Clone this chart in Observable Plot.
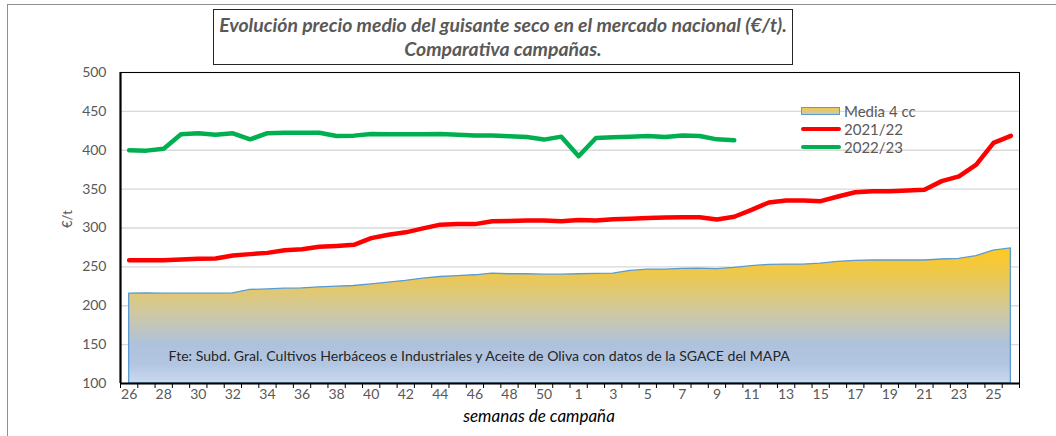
<!DOCTYPE html>
<html>
<head>
<meta charset="utf-8">
<script src="https://cdn.jsdelivr.net/npm/d3@7"></script>
<script src="https://cdn.jsdelivr.net/npm/@observablehq/plot@0.6"></script>
<style>
  html, body { margin: 0; padding: 0; background: #fff; }
  #wrap { position: relative; width: 1056px; height: 436px; overflow: hidden; font-family: Lato, sans-serif; }
  #border { position: absolute; left: 7px; top: 4px; width: 1100px; height: 500px; border: 1.5px solid #8f8f8f; }
  #chart { position: absolute; left: 0; top: 0; }
  #title { position: absolute; left: 213px; top: 9px; width: 578px; border: 1.5px solid #262626;
           background: #fff; color: #595959; font-weight: bold; font-style: italic; font-size: 19.4px;
           text-align: center; line-height: 24px; padding-top: 3px; box-sizing: content-box; height: 51px; }
  #title div { height: 24px; }
  .lg { position: absolute; color: #595959; font-size: 15px; line-height: 18px; }
  .sw { position: absolute; }
</style>
</head>
<body>
<div id="wrap">
  <div id="border"></div>
  <div id="chart"></div>
  <div id="title"></div>
  <div id="legend"></div>
</div>
<script>
const weekLabels = [26,27,28,29,30,31,32,33,34,35,36,37,38,39,40,41,42,43,44,45,46,47,48,49,50,51,
                    1,2,3,4,5,6,7,8,9,10,11,12,13,14,15,16,17,18,19,20,21,22,23,24,25,26];
const media4cc = [215.5,216,215.5,215.5,215.5,215.5,216,220.3,221,222,222.4,223.7,224.6,225.4,227.6,229.7,232,234.8,
                  237,238,239.2,241.4,240.5,240.5,240,240,240.5,241,241.4,244.8,246.5,246.5,247.4,247.8,247.2,248.7,
                  250.9,252.6,253,253,254.3,256.5,257.8,258.2,258.2,258.2,258.2,259.5,260.3,263.8,271,273.7];
const c2021_22 = [258.6,258.6,258.6,259.5,260.3,260.8,264.7,266.4,268,271.5,272.8,275.9,277,278.4,287,291.4,294.4,299.5,
                  304.3,305,305,308.6,309,309.5,309.5,308.6,310.3,309.5,311.2,312,313,313.4,313.8,313.8,311,314.5,
                  323.3,332.8,335.3,335.3,334.5,340.5,346,347.4,347.4,348.3,349.1,360.3,366.4,381.5,409.5,418.5];
const c2022_23 = [400,399.5,402,420.5,421.8,420,421.8,414,422,422.6,422.6,422.6,418.4,418.8,421,420.5,420.5,420.5,
                  421,420,419,419,418,417,413.7,417.5,392.3,415.8,416.7,417.5,418.4,417,419,418.4,414,412.8];
const yTicks = [100,150,200,250,300,350,400,450,500];
const seriesNames = ["Media 4 cc", "2021/22", "2022/23"];
const titleLines = ["Evolución precio medio del guisante seco en el mercado nacional (€/t).", "Comparativa campañas."];
const sourceNote = "Fte: Subd. Gral. Cultivos Herbáceos e Industriales y Aceite de Oliva con datos de la SGACE del MAPA";
const xTitle = "semanas de campaña";
const yTitle = "€/t";

const toRows = arr => arr.map((v, i) => ({i, v}));
const mediaRows = toRows(media4cc), rows2122 = toRows(c2021_22), rows2223 = toRows(c2022_23);
const n = weekLabels.length;
const labelIdx = d3.range(0, n, 2);
const bounds = d3.range(n + 1).map(i => i - 0.5);

const chart = Plot.plot({
  width: 1056, height: 436,
  marginLeft: 120, marginRight: 37, marginTop: 72, marginBottom: 53,
  style: {fontFamily: "Lato, sans-serif", fontSize: "14px", color: "#595959", background: "transparent", overflow: "visible"},
  x: {type: "linear", domain: [-0.5, n - 0.5]},
  y: {domain: [100, 500]},
  marks: [
    Plot.gridY(yTicks, {stroke: "#d9d9d9", strokeOpacity: 1, strokeWidth: 1.3}),
    Plot.areaY(mediaRows, {x: "i", y1: 100, y2: "v", fill: "url(#mediaGrad)", stroke: "#5B9BD5", strokeWidth: 1.3}),
    Plot.text([sourceNote], {text: d => d, frameAnchor: "bottom-left", dx: 48, dy: -23, textAnchor: "start", fill: "#262626", fontSize: 14.1}),
    Plot.lineY(rows2122, {x: "i", y: "v", stroke: "#FF0000", strokeWidth: 4.5, strokeLinecap: "round", strokeLinejoin: "round"}),
    Plot.lineY(rows2223, {x: "i", y: "v", stroke: "#00B050", strokeWidth: 4.5, strokeLinecap: "round", strokeLinejoin: "round"}),
    Plot.frame({stroke: "black", strokeWidth: 1}),
    Plot.ruleY([100], {stroke: "black", strokeWidth: 2.2}),
    Plot.ruleX([-0.5], {stroke: "black", strokeWidth: 2.2}),
    Plot.axisY({ticks: yTicks, tickSize: 0, tickPadding: 14, label: null, fontSize: 14}),
    Plot.axisX({ticks: labelIdx, tickSize: 0, tickPadding: 6, tickFormat: i => weekLabels[i], label: null, fontSize: 14}),
    Plot.axisX({ticks: bounds, tickSize: 5, tickFormat: () => "", label: null, stroke: "black"}),
    Plot.text([xTitle], {text: d => d, frameAnchor: "bottom", dx: -31, dy: 38, fontStyle: "italic", fill: "black", fontSize: 17}),
    Plot.text([yTitle], {text: d => d, frameAnchor: "left", dx: -53, rotate: -90, fill: "#595959", fontSize: 13})
  ]
});

const defs = document.createElementNS("http://www.w3.org/2000/svg", "defs");
defs.innerHTML = `<linearGradient id="mediaGrad" x1="0" y1="0" x2="0" y2="1">
  <stop offset="0" stop-color="#FFC91E"/>
  <stop offset="0.2" stop-color="#EDC850"/>
  <stop offset="0.48" stop-color="#CFC8A2"/>
  <stop offset="0.72" stop-color="#AEC2DE"/>
  <stop offset="0.86" stop-color="#B2C6E2"/>
  <stop offset="1" stop-color="#CADAEF"/>
</linearGradient>`;
chart.prepend(defs);
document.getElementById("chart").appendChild(chart);

const t = document.getElementById("title");
titleLines.forEach(s => { const d = document.createElement("div"); d.textContent = s; t.appendChild(d); });

const lg = document.getElementById("legend");
const legendStyles = [
  {sw: "left:801px;top:107px;width:37px;height:6px;border:1.3px solid #5B9BD5;background:linear-gradient(#F0C850,#C9C9B0);", y: 102},
  {sw: "left:801px;top:126.5px;width:40px;height:4.5px;border-radius:2px;background:#FF0000;", y: 120},
  {sw: "left:801px;top:144.5px;width:40px;height:4.5px;border-radius:2px;background:#00B050;", y: 138}
];
seriesNames.forEach((name, k) => {
  const s = document.createElement("div"); s.className = "sw"; s.style.cssText = legendStyles[k].sw; lg.appendChild(s);
  const l = document.createElement("div"); l.className = "lg"; l.textContent = name;
  l.style.left = "844px"; l.style.top = legendStyles[k].y + "px"; lg.appendChild(l);
});
</script>
</body>
</html>
